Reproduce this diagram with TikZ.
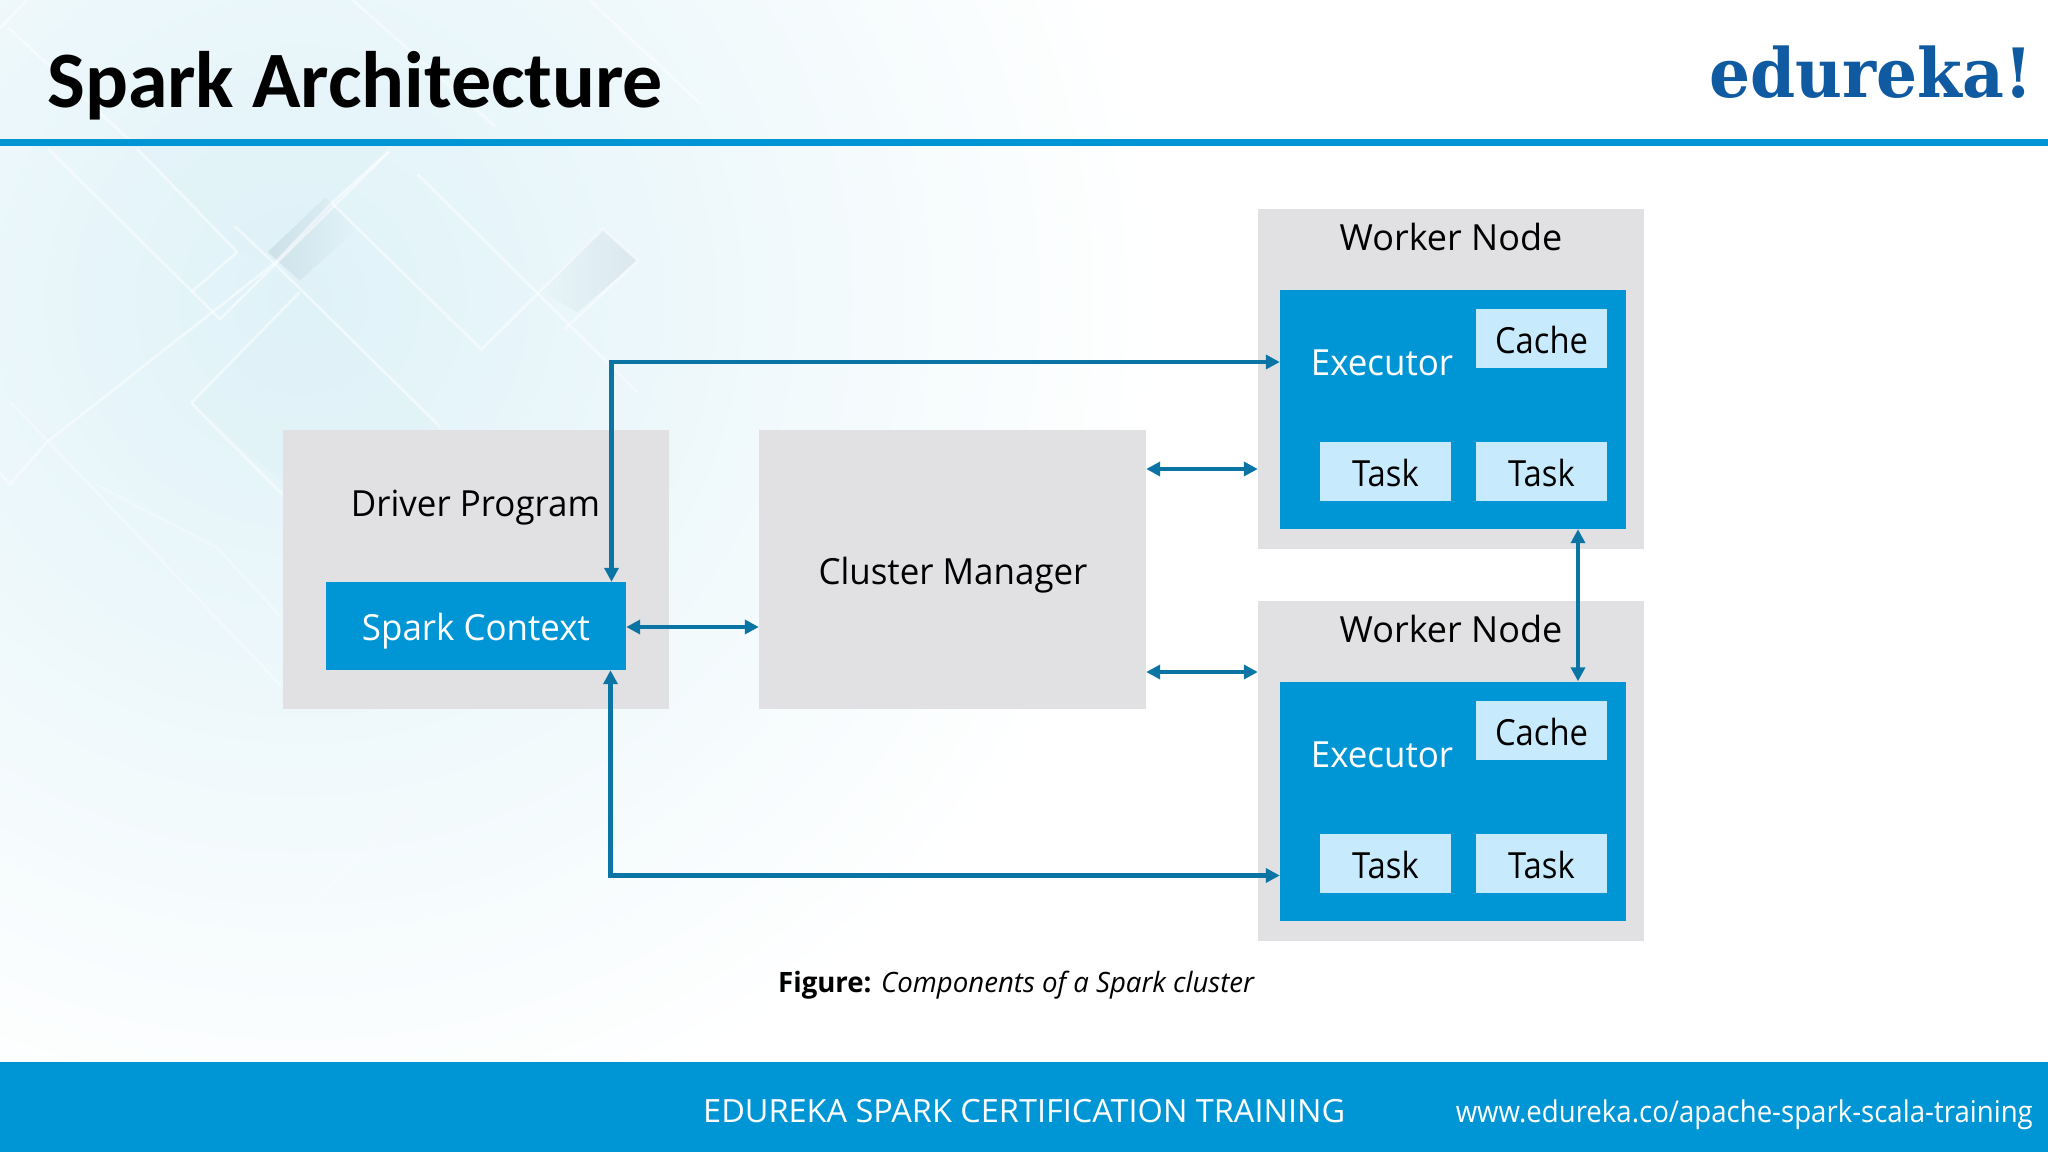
\documentclass[tikz,border=0pt]{standalone}
\usepackage{fontspec}
\setmainfont{Open Sans}
\newfontfamily\fsA[FakeStretch=.97]{Open Sans}
\newfontfamily\fsB[FakeStretch=.91]{Open Sans}
\newfontfamily\fsC[FakeStretch=.985]{Open Sans}
\newfontfamily\fsD[FakeStretch=1.015]{Open Sans}
\newfontfamily\fsE[FakeStretch=.92]{Open Sans}
\newfontfamily\titlefont{Carlito}
\newfontfamily\logofont[FakeStretch=.95]{DejaVu Serif}
\usetikzlibrary{arrows.meta,fadings}
\definecolor{barblue}{HTML}{0096D6}
\definecolor{panelgrey}{HTML}{E1E1E3}
\definecolor{paleblue}{HTML}{C7EBFD}
\definecolor{connblue}{HTML}{0A75A5}
\definecolor{logoblue}{HTML}{0F5AA0}
\definecolor{washblue}{HTML}{DFF2F8}
\definecolor{patchgrey}{HTML}{9FB4C4}
\newcommand{\fs}[1]{\fontsize{#1}{#1}\selectfont}
\tikzset{
  x=1pt,y=-1pt,
  panel/.style={fill=panelgrey,draw=none,inner sep=0pt,minimum width=#1},
  execbox/.style={fill=barblue,draw=none,inner sep=0pt,minimum width=345.5pt,minimum height=239.5pt},
  smallbox/.style={fill=paleblue,draw=none,inner sep=0pt,minimum width=131pt,minimum height=59pt,
     text=black,text height=29pt,text depth=0pt},
  blacktxt/.style={anchor=base,inner sep=0pt,text=black},
  whitetxt/.style={anchor=base,inner sep=0pt,text=white},
  conn/.style={draw=connblue,line width=4.2pt,line join=miter,{Triangle[length=14pt,width=14pt]}-{Triangle[length=14pt,width=14pt]}},
  glint/.style={draw=white,line width=2.6pt,opacity=.5},
}
\begin{document}
\begin{tikzpicture}
\useasboundingbox (0,0) rectangle (2048,1152);
% background
\fill[white] (0,0) rectangle (2048,1152);
\begin{scope}
\clip (0,0) rectangle (2048,1152);
\shade[inner color=washblue,outer color=white] (300,300) circle (860pt);
\begin{scope}[x=.6378pt,y=-.574pt,shift={(0pt,-140pt)}]
  \fill[washblue,opacity=.35] (300,458) -- (470,265) -- (690,500) -- (540,690) -- cycle;
  \fill[washblue,opacity=.35] (210,10) -- (610,10) -- (520,110) -- (430,215) -- (372,195) -- cycle;
  \fill[patchgrey,opacity=.28,path fading=east] (420,195) -- (510,100) -- (560,155) -- (470,245) -- cycle;
  \fill[patchgrey,opacity=.22,path fading=west] (845,260) -- (945,155) -- (1000,210) -- (905,300) -- cycle;
  \draw[glint] (75,15) -- (345,312) -- (610,20);
  \draw[glint] (215,15) -- (372,195) -- (300,265);
  \draw[glint] (368,150) -- (430,215) -- (690,500);
  \draw[glint] (75,525) -- (430,215) -- (520,110) -- (755,365) -- (945,155) -- (1000,210) -- (885,330);
  \draw[glint] (520,110) -- (610,20);
  \draw[glint] (655,60) -- (1000,440);
  \draw[glint] (300,458) -- (470,265);
  \draw[glint] (300,458) -- (445,620);
  \draw[glint,opacity=.35] (15,455) -- (440,950);
  \draw[glint] (0,580) -- (15,600) -- (75,525);
  \draw[glint,opacity=.3] (150,600) -- (340,710) -- (440,830);
  \draw[glint,opacity=.2] (430,1390) -- (660,1150);
\end{scope}
\begin{scope}[x=.4464pt,y=-.3333pt]
  \draw[glint] (0,85) -- (60,0);
  \draw[glint] (20,85) -- (290,420);
  \draw[glint] (790,0) -- (1110,380);
  \draw[glint] (1320,0) -- (1568,310);
\end{scope}
\end{scope}
% header and footer
\fill[barblue] (0,139) rectangle (2048,146);
\fill[barblue] (0,1062) rectangle (2048,1152);
\node[anchor=base west,inner sep=0pt,font=\titlefont\bfseries\fs{80}] (title) at (47,107) {Spark Architecture};
\node[anchor=base east,inner sep=0pt,text=logoblue,font=\logofont\bfseries\fs{68}] (logo) at (2033,97) {edureka!};
% panels
\node[panel=386pt,minimum height=279pt] (driver) at (476,569.5) {};
\node[panel=387pt,minimum height=279pt] (cm) at (952.5,569.5) {};
\node[panel=386pt,minimum height=340pt] (wn1) at (1451,379) {};
\node[panel=386pt,minimum height=340pt] (wn2) at (1451,771) {};
\node[fill=barblue,inner sep=0pt,minimum width=300pt,minimum height=88pt,text=white,font=\fsA\fs{36},text height=28pt,text depth=0pt] (ctx) at (476,626) {Spark Context};
\node[execbox] (ex1) at (1452.75,409.25) {};
\node[execbox] (ex2) at (1452.75,801.25) {};
\node[smallbox,font=\fsB\fs{36}] (c1) at (1541.5,338.5) {Cache};
\node[smallbox,font=\fsB\fs{36}] (t11) at (1385.5,471.5) {Task};
\node[smallbox,font=\fsB\fs{36}] (t12) at (1541.5,471.5) {Task};
\node[smallbox,font=\fsB\fs{36}] (c2) at (1541.5,730.5) {Cache};
\node[smallbox,font=\fsB\fs{36}] (t21) at (1385.5,863.5) {Task};
\node[smallbox,font=\fsB\fs{36}] (t22) at (1541.5,863.5) {Task};
\node[blacktxt,font=\fsA\fs{36}] (ldriver) at (475.5,516) {Driver Program};
\node[blacktxt,font=\fsA\fs{36}] (lcm) at (953,584) {Cluster Manager};
\node[blacktxt,font=\fs{36}] (lw1) at (1451,250) {Worker Node};
\node[blacktxt,font=\fs{36}] (lw2) at (1451,642) {Worker Node};
\node[whitetxt,font=\fsA\fs{36}] (le1) at (1382,375) {Executor};
\node[whitetxt,font=\fsA\fs{36}] (le2) at (1382,767) {Executor};
% connectors
\coordinate (vx) at (611.5,0);
\coordinate (vy) at (610.5,0);
\coordinate (h1) at (0,362);
\coordinate (h2) at (0,875.5);
\coordinate (h3) at (0,627);
\coordinate (h4) at (0,469);
\coordinate (h5) at (0,672);
\coordinate (v5) at (1578,0);
\draw[conn] (ctx.north -| vx) |- (ex1.west |- h1);
\draw[conn] (ctx.south -| vy) |- (ex2.west |- h2);
\draw[conn] (ctx.east |- h3) -- (cm.west |- h3);
\draw[conn] (cm.east |- h4) -- (wn1.west |- h4);
\draw[conn] (cm.east |- h5) -- (wn2.west |- h5);
\draw[conn] (ex1.south -| v5) -- (ex2.north -| v5);
% caption and footer text
\node[anchor=base west,inner sep=0pt,font=\fsC\fs{28}] (cap) at (778,992) {\textbf{Figure:} \textit{Components of a Spark cluster}};
\node[anchor=base west,inner sep=0pt,text=white,font=\fsD\fs{32}] (ft) at (703,1122) {EDUREKA SPARK CERTIFICATION TRAINING};
\node[anchor=base east,inner sep=0pt,text=white,font=\fsE\fs{30}] (url) at (2033,1122) {www.edureka.co/apache-spark-scala-training};
\end{tikzpicture}
\end{document}
